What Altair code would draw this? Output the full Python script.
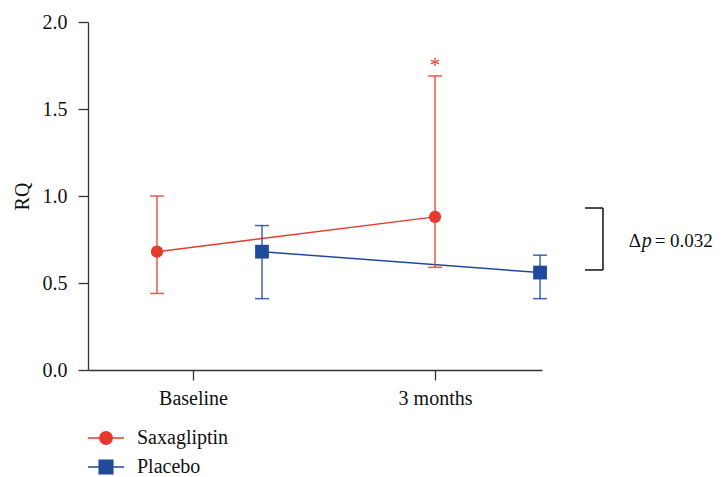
import altair as alt
import pandas as pd

# ---- data ----
series = ["Saxagliptin", "Saxagliptin", "Placebo", "Placebo"]
x_pos = [0.851, 2.0, 1.285, 2.434]
rq = [0.68, 0.88, 0.68, 0.56]
rq_lo = [0.44, 0.59, 0.41, 0.41]
rq_hi = [1.00, 1.69, 0.83, 0.66]

tick_values = [1, 2]
tick_labels = ["Baseline", "3 months"]

star_x = [2.0]
star_y = [1.69]

bracket_x = [2.62, 2.694]
bracket_y = [0.575, 0.931]
delta_x = [2.80]
delta_y = [0.741]

series_names = ["Saxagliptin", "Placebo"]
series_colors = ["#E8392E", "#1F4A9C"]
legend_paths = [
    "M-1.8,0H1.8M0.62,0A0.62,0.62,0,1,1,-0.62,0A0.62,0.62,0,1,1,0.62,0Z",
    "M-1.8,0H1.8M-0.68,-0.68H0.68V0.68H-0.68Z",
]

FONT = "Liberation Serif"
FS = 20
AX = "#333333"

df = pd.DataFrame({"series": series, "x": x_pos, "rq": rq, "lo": rq_lo, "hi": rq_hi})
star_df = pd.DataFrame({"x": star_x, "y": star_y})
br_df = pd.DataFrame({"x1": [bracket_x[0]] * 2, "x2": [bracket_x[1]] * 2, "y": bracket_y})
brv_df = pd.DataFrame({"x": [bracket_x[1]], "y1": [bracket_y[0]], "y2": [bracket_y[1]]})
delta_df = pd.DataFrame({"x": delta_x, "y": delta_y})

label_expr = " : ".join(
    f"datum.value == {v} ? '{l}'" for v, l in zip(tick_values[:-1], tick_labels[:-1])
) + f" : '{tick_labels[-1]}'"

xs = alt.Scale(domain=[0.566, 2.442], nice=False, zero=False)
ys = alt.Scale(domain=[0, 2], nice=False)
cs = alt.Scale(domain=series_names, range=series_colors)

X = alt.X("x:Q", scale=xs, axis=alt.Axis(
    values=tick_values, labelExpr=label_expr, title=None, grid=False,
    tickSize=10, labelPadding=8, labelFontSize=FS, labelFont=FONT, labelColor="#111",
    domainColor=AX, tickColor=AX, domainWidth=1.3, tickWidth=1.3))
Y = alt.Y("rq:Q", scale=ys, axis=alt.Axis(
    values=[0, 0.5, 1.0, 1.5, 2.0], format=".1f", title="RQ", grid=False,
    tickSize=10, labelPadding=11, labelFontSize=FS, labelFont=FONT, labelColor="#111",
    titleFont=FONT, titleFontSize=FS, titleFontWeight="normal", titleColor="#111",
    titlePadding=10, domainColor=AX, tickColor=AX, domainWidth=1.3, tickWidth=1.3))

base = alt.Chart(df)

# legend layer first so its legend definition is kept
LEG = alt.Legend(
    title=None, orient="none", legendX=7, legendY=405, symbolSize=400,
    symbolStrokeWidth=1.5, symbolOpacity=1, labelFont=FONT, labelFontSize=FS,
    labelColor="#111", labelOffset=20, rowPadding=8)

leg = base.mark_point(filled=True, strokeWidth=1.5, opacity=0).encode(
    x=X, y=Y,
    fill=alt.Fill("series:N", scale=alt.Scale(domain=series_names, range=series_colors), legend=LEG),
    stroke=alt.Stroke("series:N", scale=alt.Scale(domain=series_names, range=series_colors), legend=LEG),
    shape=alt.Shape("series:N", scale=alt.Scale(domain=series_names, range=legend_paths), legend=LEG),
)

C = alt.Color("series:N", scale=cs, legend=None)

lines = base.mark_line(strokeWidth=1.5).encode(x="x:Q", y="rq:Q", color=C, detail="series:N")
err = base.mark_rule(strokeWidth=1.5, opacity=0.85).encode(
    x="x:Q", y="lo:Q", y2="hi:Q", color=C)
cap_lo = base.mark_tick(orient="horizontal", size=14, thickness=1.5, opacity=0.85).encode(
    x="x:Q", y="lo:Q", color=C)
cap_hi = base.mark_tick(orient="horizontal", size=14, thickness=1.5, opacity=0.85).encode(
    x="x:Q", y="hi:Q", color=C)
circ = base.transform_filter(alt.datum.series == series_names[0]).mark_point(
    shape="circle", filled=True, size=150, opacity=1).encode(x="x:Q", y="rq:Q", color=C)
sq = base.transform_filter(alt.datum.series == series_names[1]).mark_point(
    shape="square", filled=True, size=190, opacity=1).encode(x="x:Q", y="rq:Q", color=C)

star = alt.Chart(star_df).mark_text(text="*", color=series_colors[0], fontSize=21,
                                    font=FONT, dy=-10, baseline="middle").encode(
    x="x:Q", y="y:Q")

br_h = alt.Chart(br_df).mark_rule(color="#111", strokeWidth=1.5).encode(
    x="x1:Q", x2="x2:Q", y="y:Q")
br_v = alt.Chart(brv_df).mark_rule(color="#111", strokeWidth=1.5).encode(
    x="x:Q", y="y1:Q", y2="y2:Q")

DFS = 19
d1 = alt.Chart(delta_df).mark_text(text="Δ", align="left", font=FONT, fontSize=DFS,
                                   color="#111").encode(x="x:Q", y="y:Q")
d2 = alt.Chart(delta_df).mark_text(text="p", align="left", font=FONT, fontSize=DFS + 1,
                                   fontStyle="italic", color="#111", dx=13).encode(
    x="x:Q", y="y:Q")
d3 = alt.Chart(delta_df).mark_text(text="= 0.032", align="left", font=FONT, fontSize=DFS,
                                   color="#111", dx=26).encode(x="x:Q", y="y:Q")

chart = alt.layer(leg, lines, err, cap_lo, cap_hi, circ, sq, star, br_h, br_v, d1, d2, d3).properties(
    width=454, height=348,
    autosize=alt.AutoSizeParams(type="none"),
    padding={"left": 80, "top": 14, "right": 178, "bottom": 115},
    background="white",
).configure_view(stroke=None)

chart.save("out.html", embed_options={"renderer": "svg", "actions": False})
